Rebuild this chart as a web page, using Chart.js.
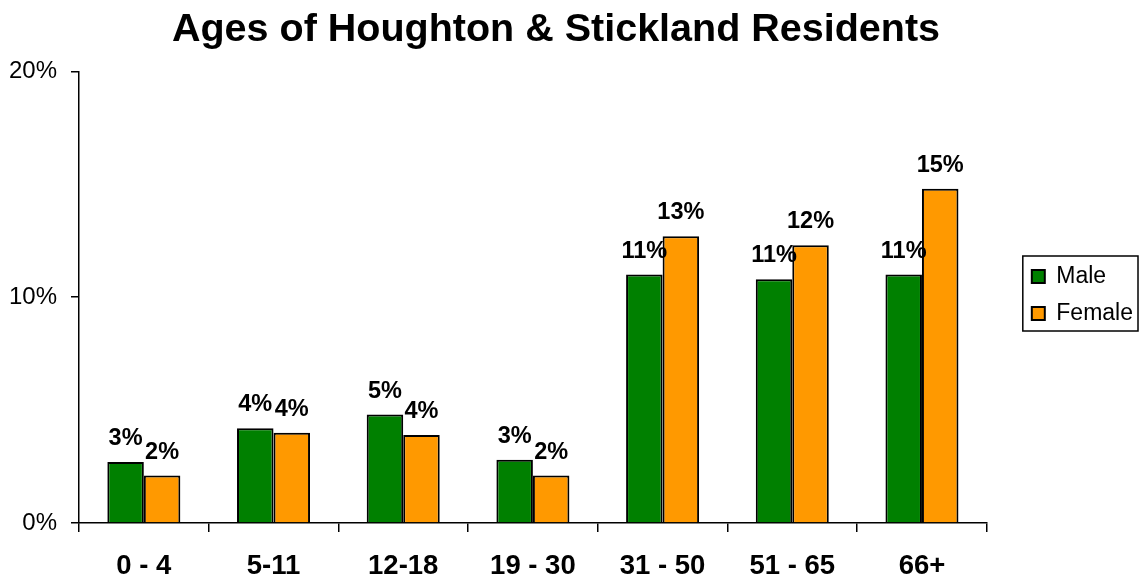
<!DOCTYPE html>
<html>
<head>
<meta charset="utf-8">
<script src="https://cdn.jsdelivr.net/npm/chart.js@4"></script>
<style>
  html, body { margin: 0; padding: 0; background: #fff; overflow: hidden; }
  #wrap { width: 1140px; height: 580px; }
</style>
</head>
<body>
<div id="wrap"><canvas id="chart"></canvas></div>
<script>
const ageGroups = ["0 - 4", "5-11", "12-18", "19 - 30", "31 - 50", "51 - 65", "66+"];
const male = [2.7, 4.2, 4.8, 2.8, 11.0, 10.8, 11.0];
const female = [2.1, 4.0, 3.9, 2.1, 12.7, 12.3, 14.8];
const yTicks = [0, 10, 20];

const FONT = "Arial, 'Liberation Sans', sans-serif";

// percent labels above each bar
const valueLabels = {
  id: "valueLabels",
  afterDatasetsDraw(chart) {
    const ctx = chart.ctx;
    ctx.save();
    ctx.font = `bold 23.5px ${FONT}`;
    ctx.fillStyle = "#000";
    ctx.textAlign = "center";
    ctx.textBaseline = "middle";
    chart.data.datasets.forEach((ds, i) => {
      chart.getDatasetMeta(i).data.forEach((bar, j) => {
        ctx.fillText(Math.round(ds.data[j]) + "%", bar.x, bar.y - 23.5);
      });
    });
    ctx.restore();
  }
};

// push the legend a bit away from the plot, like the original
const legendShift = {
  id: "legendShift",
  afterLayout(chart) {
    const lg = chart.legend;
    lg.left += 31; lg.right += 31;
    lg.top += 3; lg.bottom += 3;
  }
};

// box round the legend
const legendBorder = {
  id: "legendBorder",
  afterDraw(chart) {
    const boxes = chart.legend.legendHitBoxes;
    if (!boxes || !boxes.length) return;
    const left = Math.min(...boxes.map(b => b.left)) - 9;
    const top = Math.min(...boxes.map(b => b.top)) - 9;
    const right = Math.max(...boxes.map(b => b.left + b.width)) + 5;
    const bottom = Math.max(...boxes.map(b => b.top + b.height)) + 6;
    const ctx = chart.ctx;
    ctx.save();
    ctx.strokeStyle = "#000";
    ctx.lineWidth = 1.5;
    ctx.strokeRect(left, top, right - left, bottom - top);
    ctx.restore();
  }
};

new Chart(document.getElementById("chart"), {
  type: "bar",
  data: {
    labels: ageGroups,
    datasets: [
      {
        label: "Male",
        data: male,
        backgroundColor: "#008000",
        borderColor: "#000",
        borderWidth: 2,
      },
      {
        label: "Female",
        data: female,
        backgroundColor: "#FF9900",
        borderColor: "#000",
        borderWidth: 2,
      },
    ],
  },
  plugins: [legendShift, valueLabels, legendBorder],
  options: {
    responsive: true,
    maintainAspectRatio: false,
    animation: false,
    categoryPercentage: 0.563,
    barPercentage: 1.0,
    layout: { padding: { left: 0, right: 28, top: 4, bottom: 0 } },
    plugins: {
      title: {
        display: true,
        text: "Ages of Houghton & Stickland Residents",
        color: "#000",
        font: { family: FONT, size: 39.5, weight: "bold" },
        padding: { top: 2, bottom: 18 },
      },
      legend: {
        position: "right",
        labels: {
          color: "#000",
          font: { family: FONT, size: 23 },
          boxWidth: 13,
          boxHeight: 13,
          padding: 14,
        },
      },
      tooltip: { enabled: false },
    },
    scales: {
      x: {
        offset: true,
        afterFit(scale) { scale.height = 57; },
        grid: {
          offset: true,
          drawOnChartArea: false,
          drawTicks: true,
          tickLength: 9,
          color: "#000",
          lineWidth: 1.5,
        },
        border: { display: true, color: "#000", width: 1.5 },
        ticks: {
          color: "#000",
          font: { family: FONT, size: 27.5, weight: "bold" },
          padding: 18,
        },
      },
      y: {
        min: 0,
        max: 20,
        afterBuildTicks(scale) {
          scale.ticks = yTicks.map(v => ({ value: v }));
        },
        afterFit(scale) { scale.width = 79; },
        grid: {
          drawOnChartArea: false,
          drawTicks: true,
          tickLength: 8,
          color: "#000",
          lineWidth: 1.5,
        },
        border: { display: true, color: "#000", width: 1.5 },
        ticks: {
          color: "#000",
          font: { family: FONT, size: 24 },
          padding: 14,
          callback: v => v + "%",
        },
      },
    },
  },
});
</script>
</body>
</html>
